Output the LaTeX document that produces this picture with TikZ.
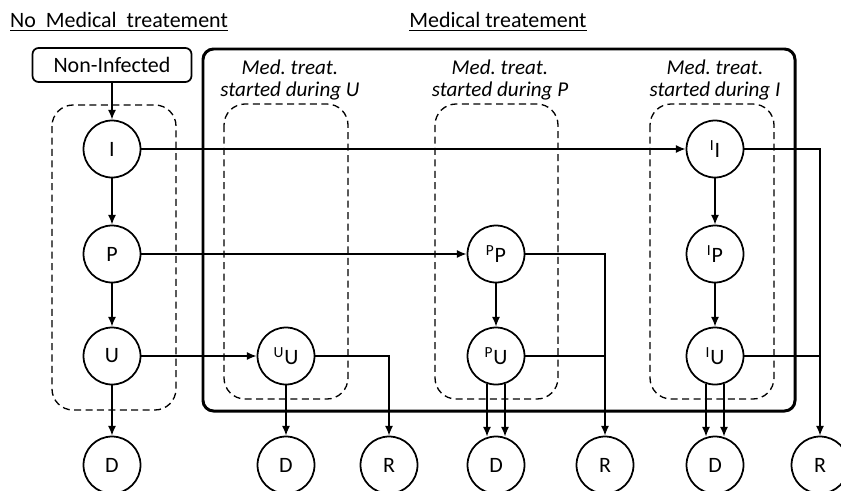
\documentclass[tikz,border=0pt]{standalone}
\usepackage{fontspec}
\setmainfont{Carlito}
\usetikzlibrary{arrows.meta,calc}
\begin{document}
\begin{tikzpicture}[x=0.02cm,y=-0.02cm,
    stage/.style={circle,draw,line width=1pt,minimum size=1.14cm,inner sep=0pt,
      font=\fontsize{12.5}{14}\selectfont},
    entrybox/.style={draw,line width=1pt,rounded corners=3.5pt,minimum width=3.18cm,
      minimum height=0.68cm,font=\fontsize{12.5}{14}\selectfont},
    grouptitle/.style={align=center,font=\fontsize{12}{12.5}\selectfont\itshape},
    header/.style={font=\fontsize{12.5}{14}\selectfont},
    groupbox/.style={draw,line width=0.75pt,rounded corners=12pt,dash pattern=on 4pt off 2.5pt},
    link/.style={line width=0.8pt},
    arr/.style={line width=0.8pt,-{Latex[length=5.5pt,width=4.5pt]}}]
\useasboundingbox (0,0) rectangle (841,490);
% headers
\node[header] (nomed) at (119,22) {\underline{No\ \ Medical\ \ treatement}};
\node[header] (med) at (498,22) {\underline{Medical treatement}};
% frames
\draw[line width=1.7pt,rounded corners=6pt] (203,49) rectangle (795,411);
\draw[groupbox] (52,105) rectangle (176,410);
\draw[groupbox] (224,104) rectangle (348,399);
\draw[groupbox] (435,104) rectangle (558,399);
\draw[groupbox] (650,104) rectangle (774,399);
\node[grouptitle] (tu) at (290,80) {Med.\ treat.\\started during U};
\node[grouptitle] (tp) at (500,80) {Med.\ treat.\\started during P};
\node[grouptitle] (ti) at (715,80) {Med.\ treat.\\started during I};
% states
\node[entrybox] (ni) at (112,65) {Non-Infected};
\node[stage] (i) at (112,149) {I};
\node[stage] (p) at (112,254) {P};
\node[stage] (u) at (112,356) {U};
\node[stage] (d0) at (112,465) {D};
\node[stage] (uu) at (286,356) {\textsuperscript{U}U};
\node[stage] (d1) at (286,465) {D};
\node[stage] (r1) at (389,465) {R};
\node[stage] (pp) at (496,254) {\textsuperscript{P}P};
\node[stage] (pu) at (496,356) {\textsuperscript{P}U};
\node[stage] (d2) at (496,465) {D};
\node[stage] (r2) at (605,465) {R};
\node[stage] (ii) at (715,149) {\textsuperscript{I}I};
\node[stage] (ip) at (715,254) {\textsuperscript{I}P};
\node[stage] (iu) at (715,356) {\textsuperscript{I}U};
\node[stage] (d3) at (715,465) {D};
\node[stage] (r3) at (820,465) {R};
% no treatment
\draw[arr] (ni) -- (i);
\draw[arr] (i) -- (p);
\draw[arr] (p) -- (u);
\draw[arr] (u) -- (d0);
% start of treatment
\draw[arr] (i) -- (ii);
\draw[arr] (p) -- (pp);
\draw[arr] (u) -- (uu);
% during U
\draw[arr] (uu) -- (d1);
\draw[arr] (uu.east) -| (r1.north);
% during P
\draw[arr] (pp) -- (pu);
\draw[arr] (pp.east) -| (r2.north);
\draw[link] (pu.east) -- (pu.east -| r2);
\draw[arr] ($(pu.south)+(-9,-1)$) -- ($(d2.north)+(-9,1)$);
\draw[arr] ($(pu.south)+(9,-1)$) -- ($(d2.north)+(9,1)$);
% during I
\draw[arr] (ii) -- (ip);
\draw[arr] (ip) -- (iu);
\draw[arr] (ii.east) -| (r3.north);
\draw[link] (iu.east) -- (iu.east -| r3);
\draw[arr] ($(iu.south)+(-9,-1)$) -- ($(d3.north)+(-9,1)$);
\draw[arr] ($(iu.south)+(9,-1)$) -- ($(d3.north)+(9,1)$);
\end{tikzpicture}
\end{document}
